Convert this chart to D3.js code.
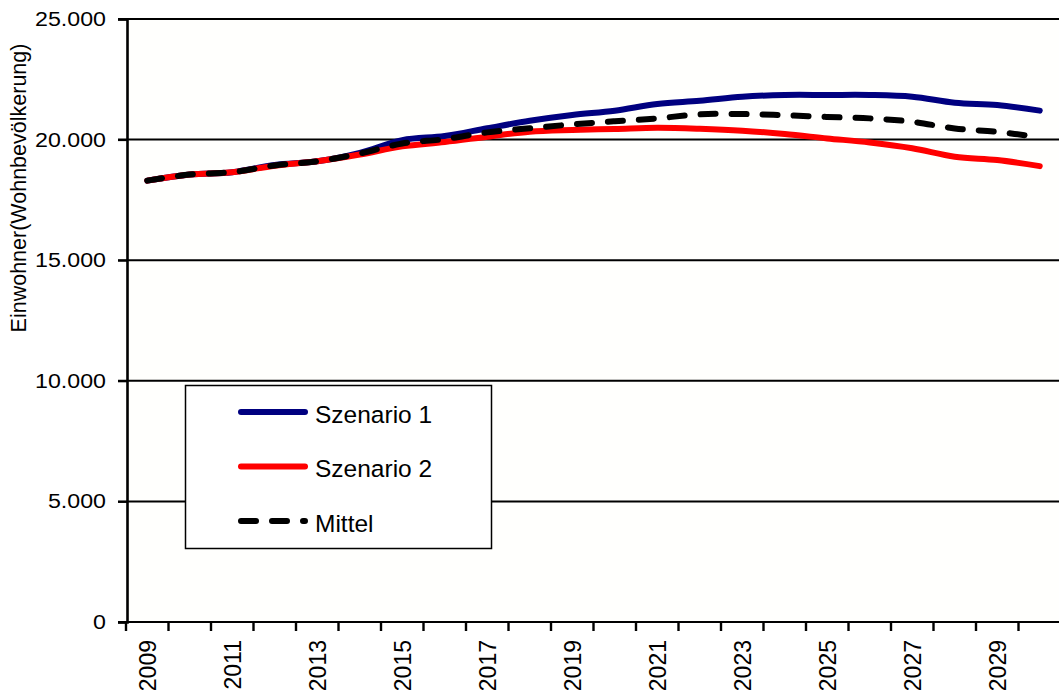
<!DOCTYPE html>
<html>
<head>
<meta charset="utf-8">
<script src="https://cdn.jsdelivr.net/npm/d3@7"></script>
<style>
  html, body { margin: 0; padding: 0; background: #ffffff; }
  svg { display: block; }
  text { font-family: "Liberation Sans", Arial, Helvetica, sans-serif; fill: #000; }
</style>
</head>
<body>
<svg id="chart" width="1059" height="691"></svg>
<script>
// Jahre der Prognose
const years = ["2009","2010","2011","2012","2013","2014","2015","2016","2017","2018","2019",
               "2020","2021","2022","2023","2024","2025","2026","2027","2028","2029","2030"];

// Einwohner je Szenario
const szenario1 = [18300, 18550, 18650, 18950, 19100, 19450, 19980, 20150, 20470, 20780, 21020,
                   21200, 21480, 21610, 21780, 21850, 21850, 21850, 21780, 21530, 21430, 21200];
const szenario2 = [18300, 18550, 18650, 18920, 19100, 19380, 19720, 19900, 20120, 20330, 20400,
                   20440, 20490, 20450, 20370, 20230, 20050, 19880, 19640, 19290, 19150, 18900];
const mittel    = [18300, 18550, 18650, 18930, 19100, 19420, 19840, 20020, 20300, 20470, 20630,
                   20760, 20880, 21050, 21060, 21010, 20940, 20880, 20740, 20460, 20320, 20100];

// Achsenbeschriftung
const yTicks = [0, 5000, 10000, 15000, 20000, 25000];
const xLabelYears = ["2009","2011","2013","2015","2017","2019","2021","2023","2025","2027","2029"];

const seriesList = [
  { name: "Szenario 1", values: szenario1, color: "#000080", dash: null },
  { name: "Szenario 2", values: szenario2, color: "#ff0000", dash: null },
  { name: "Mittel",     values: mittel,    color: "#000000", dash: "15,16" }
];

const svg = d3.select("#chart");
const TX = 1.19; // horizontal stretch of the value labels

const plot = { left: 127, right: 1061, top: 19, bottom: 622 };

const x = d3.scaleBand().domain(years).range([plot.left - 1, plot.right]).padding(0);
const y = d3.scaleLinear().domain([0, 25000]).range([plot.bottom, plot.top]);
const xc = d => x(d) + x.bandwidth() / 2;

const de = d3.formatLocale({ decimal: ",", thousands: ".", grouping: [3], currency: ["", " €"] });
const fmt = de.format(",.0f");

// Plotfläche
svg.append("rect")
  .attr("x", plot.left).attr("y", plot.top)
  .attr("width", 1059 - plot.left).attr("height", plot.bottom - plot.top)
  .attr("fill", "#fffffd");

// Gitternetzlinien
svg.append("g")
  .selectAll("line")
  .data(yTicks.filter(v => v > 0))
  .join("line")
  .attr("x1", plot.left - 9).attr("x2", 1059)
  .attr("y1", d => y(d)).attr("y2", d => y(d))
  .attr("stroke", "#000").attr("stroke-width", 2);

// Y-Achse
const yAxis = svg.append("g")
  .attr("transform", `translate(${plot.left},0)`)
  .call(d3.axisLeft(y).tickValues(yTicks).tickSize(9).tickFormat(""));
yAxis.select(".domain").attr("stroke", "#000").attr("stroke-width", 2.6);
yAxis.selectAll(".tick line").attr("stroke", "#000").attr("stroke-width", 2);

svg.append("g")
  .selectAll("text")
  .data(yTicks)
  .join("text")
  .attr("transform", d => `translate(106,${y(d)}) scale(${TX},1)`)
  .attr("dy", "0.36em")
  .attr("text-anchor", "end")
  .style("font-size", "19.5px")
  .text(d => fmt(d));

// X-Achse
const xAxis = svg.append("g")
  .attr("transform", `translate(0,${plot.bottom})`)
  .call(d3.axisBottom(x).tickSize(0).tickFormat(""));
xAxis.select(".domain").remove();
svg.append("line")
  .attr("x1", plot.left - 9).attr("x2", 1059)
  .attr("y1", plot.bottom).attr("y2", plot.bottom)
  .attr("stroke", "#000").attr("stroke-width", 2.2);

svg.append("g")
  .selectAll("line")
  .data(years)
  .join("line")
  .attr("x1", d => x(d)).attr("x2", d => x(d))
  .attr("y1", plot.bottom).attr("y2", plot.bottom + 9)
  .attr("stroke", "#000").attr("stroke-width", 2.4);

svg.append("g")
  .selectAll("text")
  .data(xLabelYears)
  .join("text")
  .attr("transform", d => `translate(${xc(d)},640) rotate(-90)`)
  .attr("dy", "0.36em")
  .attr("text-anchor", "end")
  .style("font-size", "23px")
  .text(d => d);

// Achsentitel
svg.append("text")
  .attr("transform", `translate(18,188) rotate(-90)`)
  .attr("dy", "0.36em")
  .attr("text-anchor", "middle")
  .style("font-size", "21.5px")
  .text("Einwohner(Wohnbevölkerung)");

// Linien
const line = d3.line()
  .x((d, i) => xc(years[i]))
  .y(d => y(d))
  .curve(d3.curveCatmullRom.alpha(0.5));

svg.append("g")
  .selectAll("path")
  .data(seriesList)
  .join("path")
  .attr("d", d => line(d.values))
  .attr("fill", "none")
  .attr("stroke", d => d.color)
  .attr("stroke-width", 6)
  .attr("stroke-linecap", "round")
  .attr("stroke-linejoin", "round")
  .attr("stroke-dasharray", d => d.dash);

// Legende
const legend = svg.append("g");
legend.append("rect")
  .attr("x", 185.5).attr("y", 385.5)
  .attr("width", 306).attr("height", 163)
  .attr("fill", "#ffffff").attr("stroke", "#000").attr("stroke-width", 1.5);

const legendY = d3.scalePoint().domain(seriesList.map(s => s.name)).range([412, 521]);

const items = legend.selectAll("g.item")
  .data(seriesList)
  .join("g").attr("class", "item");

items.append("line")
  .attr("x1", 241).attr("x2", 305)
  .attr("y1", d => legendY(d.name)).attr("y2", d => legendY(d.name))
  .attr("stroke", d => d.color)
  .attr("stroke-width", 6)
  .attr("stroke-linecap", "round")
  .attr("stroke-dasharray", d => d.dash);

items.append("text")
  .attr("transform", d => `translate(315,${legendY(d.name) + 2})`)
  .attr("dy", "0.36em")
  .style("font-size", "24.5px")
  .text(d => d.name);
</script>
</body>
</html>
